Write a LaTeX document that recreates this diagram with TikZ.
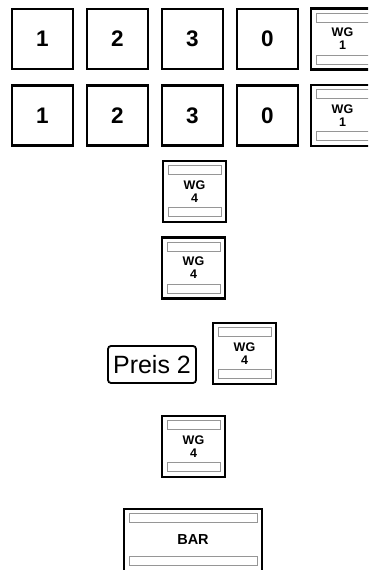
\documentclass[tikz,border=0pt]{standalone}
\usepackage{fontspec}
\setmainfont{Liberation Sans}
\usepackage{tikz}
\usepackage{xcolor}
\definecolor{leistengrau}{RGB}{150,150,150}
\tikzset{
    taste/.style={draw=black, line width=2.2pt, fill=white, minimum width=61pt, minimum height=60pt, inner sep=0pt, font=\fontsize{22.5}{22.5}\selectfont\bfseries},
    leisten/.style={path picture={
        \draw[leistengrau, line width=0.9pt] ([xshift=5pt,yshift=-4.5pt]path picture bounding box.north west) rectangle ([xshift=-5pt,yshift=-13.5pt]path picture bounding box.north east);
        \draw[leistengrau, line width=0.9pt] ([xshift=5pt,yshift=5.5pt]path picture bounding box.south west) rectangle ([xshift=-5pt,yshift=14.5pt]path picture bounding box.south east);}},
    wgtaste/.style={taste, leisten, minimum width=63pt, minimum height=61pt, align=center, font=\fontsize{12.5}{13}\selectfont\bfseries},
    bartaste/.style={wgtaste, minimum width=138pt, minimum height=62pt, font=\fontsize{14.5}{14.5}\selectfont\bfseries},
    preisbox/.style={draw=black, line width=1.8pt, rounded corners=3pt, minimum width=88pt, minimum height=37pt, inner sep=1pt, font=\fontsize{25}{25}\selectfont}
}

\begin{document}
\begin{tikzpicture}[x=1pt, y=1pt]
    \useasboundingbox (0,0) rectangle (368,570);
    \clip (0,0) rectangle (368,570);
    % erste Reihe
    \node[taste] (eins1) at (42.5,531) {1};
    \node[taste] (zwei1) at (117.5,531) {2};
    \node[taste] (drei1) at (192.5,531) {3};
    \node[taste] (null1) at (267.5,531) {0};
    \node[wgtaste] (wgeins1) at (342.5,531) {WG\\1};
    % zweite Reihe
    \node[taste] (eins2) at (42.5,454.5) {1};
    \node[taste] (zwei2) at (117.5,454.5) {2};
    \node[taste] (drei2) at (192.5,454.5) {3};
    \node[taste] (null2) at (267.5,454.5) {0};
    \node[wgtaste] (wgeins2) at (342.5,454.5) {WG\\1};
    % Warengruppe 4
    \node[wgtaste] (wgvier1) at (194.5,378.5) {WG\\4};
    \node[wgtaste] (wgvier2) at (193.5,302) {WG\\4};
    \node[preisbox] (preis) at (152,205.5) {Preis 2};
    \node[wgtaste] (wgvier3) at (244.5,216.5) {WG\\4};
    \node[wgtaste] (wgvier4) at (193.5,123.5) {WG\\4};
    % Bar
    \node[bartaste] (bar) at (193,30) {BAR};
\end{tikzpicture}
\end{document}
